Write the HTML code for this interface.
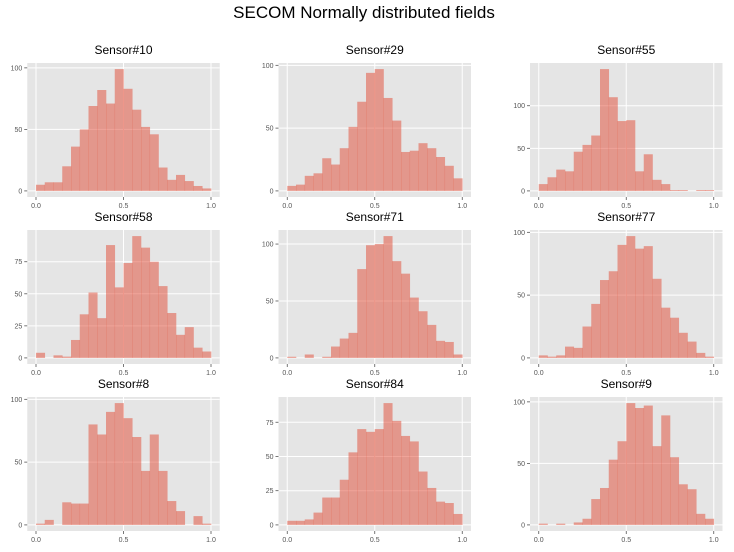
<!DOCTYPE html>
<html><head><meta charset="utf-8"><style>
body{margin:0;background:#fff;width:734px;height:547px;overflow:hidden;font-family:"Liberation Sans","DejaVu Sans",sans-serif}
</style></head><body>
<svg id="chart" width="734" height="547" xmlns="http://www.w3.org/2000/svg">
<text x="364" y="18" text-anchor="middle" font-size="17" fill="#000">SECOM Normally distributed fields</text>
</svg>
<script>
const sensorNames = ["Sensor#10","Sensor#29","Sensor#55","Sensor#58","Sensor#71","Sensor#77","Sensor#8","Sensor#84","Sensor#9"];
const binEdges = [0,0.05,0.1,0.15,0.2,0.25,0.3,0.35,0.4,0.45,0.5,0.55,0.6,0.65,0.7,0.75,0.8,0.85,0.9,0.95,1.0];
const xTickValues = [0, 0.5, 1.0];
const xTickLabels = ["0.0","0.5","1.0"];
const counts10 = [5,7,7,20,36,50,69,82,71,99,83,66,52,46,19,9,13,8,4,2];
const counts29 = [4,5,12,14,26,21,34,51,71,94,97,74,56,31,32,38,34,27,20,10];
const counts55 = [8,16,25,23,46,54,65,143,110,82,83,23,43,13,8,1,1,0,1,1];
const counts58 = [4,0,2,1,14,34,51,31,88,55,74,95,86,75,56,35,18,24,8,5];
const counts71 = [1,0,3,0,1,10,17,22,78,99,100,107,85,74,53,41,29,15,14,3];
const counts77 = [2,1,2,9,8,25,43,62,69,90,97,87,89,63,40,32,20,13,4,1];
const counts8 = [1,4,0,18,17,17,80,72,90,97,85,70,43,72,43,19,11,0,7,1];
const counts84 = [3,3,4,9,20,20,33,53,70,68,70,89,76,65,61,39,27,17,16,8];
const counts9 = [1,0,1,0,2,5,21,30,53,68,99,95,97,64,89,55,33,29,9,5];
const yTicks10 = [0,50,100], yTicks29=[0,50,100], yTicks55=[0,50,100], yTicks58=[0,25,50,75];
const yTicks71 = [0,50,100], yTicks77=[0,50,100], yTicks8=[0,50,100], yTicks84=[0,25,50,75], yTicks9=[0,50,100];

const allCounts=[counts10,counts29,counts55,counts58,counts71,counts77,counts8,counts84,counts9];
const allTicks=[yTicks10,yTicks29,yTicks55,yTicks58,yTicks71,yTicks77,yTicks8,yTicks84,yTicks9];
const svg=document.getElementById('chart');
const NS="http://www.w3.org/2000/svg";
function mk(tag,attrs,parent){const e=document.createElementNS(NS,tag);for(const k in attrs)e.setAttribute(k,attrs[k]);parent.appendChild(e);return e;}
const colLeft=[27.25,278.5,530], rowTop=[63,230,397], W=192.5, H=134;
for(let p=0;p<9;p++){
  const L=colLeft[p%3], T=rowTop[Math.floor(p/3)];
  const data=allCounts[p], ticks=allTicks[p];
  const ymax=Math.max(...data);
  const y0=-0.05*ymax, y1=1.05*ymax;
  const xs=v=>L+(v+0.05)/1.1*W;
  const ys=v=>T+H-(v-y0)/(y1-y0)*H;
  const g=mk('g',{},svg);
  
  
  const bg=mk('rect',{x:L,y:T,width:W,height:H,fill:'#e5e5e5'},g);
  
  
  ticks.forEach(t=>{
    const y=ys(t);
    const gl=mk('line',{x1:L,x2:L+W,y1:y,y2:y,stroke:'#fff','stroke-width':1},g);
    
    
    mk('line',{x1:L-3,x2:L,y1:y,y2:y,stroke:'#555','stroke-width':0.8},g);
    const tl=mk('text',{x:L-5,y:y+2.5,'text-anchor':'end','font-size':7,fill:'#555'},g);
    tl.textContent=t;
    
    
  });
  xTickValues.forEach((t,i)=>{
    const x=xs(t);
    const gl=mk('line',{x1:x,x2:x,y1:T,y2:T+H,stroke:'#fff','stroke-width':1},g);
    
    
    mk('line',{x1:x,x2:x,y1:T+H,y2:T+H+3,stroke:'#555','stroke-width':0.8},g);
    const tl=mk('text',{x:x,y:T+H+11,'text-anchor':'middle','font-size':7,fill:'#555'},g);
    tl.textContent=xTickLabels[i];
    
    
  });
  data.forEach((c,i)=>{
    if(c<=0)return;
    const x0=xs(binEdges[i]), x1=xs(binEdges[i+1]);
    const b=mk('rect',{x:x0,y:ys(c),width:x1-x0+0.3,height:ys(0)-ys(c),fill:'#E24A33','fill-opacity':0.5},g);
    
    
  });
  const tt=mk('text',{x:L+W/2,y:T-9,'text-anchor':'middle','font-size':12,fill:'#000'},g);
  tt.textContent=sensorNames[p];
  
  
}
</script>
</body></html>
